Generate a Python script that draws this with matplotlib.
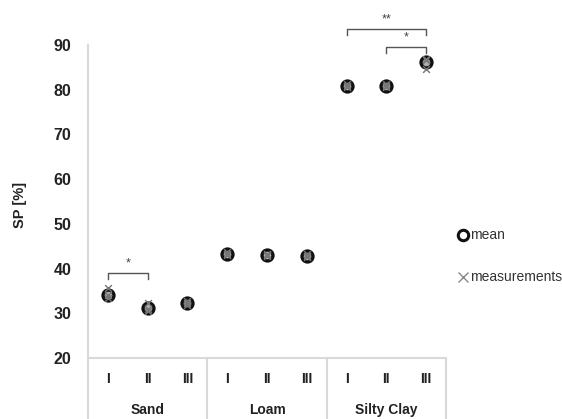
import matplotlib
matplotlib.use("Agg")
import matplotlib.pyplot as plt
from matplotlib.lines import Line2D

soils = ["Sand", "Loam", "Silty Clay"]
levels = ["I", "II", "III"]
means = [34.0, 31.2, 32.3, 43.3, 43.0, 42.9, 80.9, 80.9, 86.1]
measurements = [
    [33.4, 34.0, 35.6],
    [30.6, 31.0, 32.2],
    [31.9, 32.3, 32.8],
    [43.0, 43.3, 43.6],
    [42.7, 43.0, 43.3],
    [42.6, 42.9, 43.2],
    [80.5, 80.9, 81.3],
    [80.5, 80.9, 81.3],
    [84.7, 86.7, 86.9],
]
# significance brackets: (i, j, y, label)
brackets = [(0, 1, 39.0, "*"), (6, 8, 93.5, "**"), (7, 8, 89.6, "*")]

plt.rcParams["font.family"] = ["Liberation Sans Narrow", "Liberation Sans", "DejaVu Sans"]

W, H = 562, 419
fig = plt.figure(figsize=(W / 100, H / 100), dpi=100)
L, R, B, T = 88, 446, 358, 45
ax = fig.add_axes([L / W, 1 - B / H, (R - L) / W, (B - T) / H])

n = len(means)
xs = list(range(n))
ax.set_xlim(-0.5, n - 0.5)
ax.set_ylim(20, 90)

for i, vals in enumerate(measurements):
    ax.scatter([i] * len(vals), vals, marker="x", s=24, color="#777777",
               linewidths=1.0, zorder=3)
ax.scatter(xs, means, marker="o", s=62, facecolors="#b0b0b0",
           edgecolors="#111111", linewidths=2.4, zorder=2)

for (i, j, y, lab) in brackets:
    h = 1.3
    ax.plot([i, i, j, j], [y - h, y, y, y - h], color="#555555", lw=1.0,
            clip_on=False)
    ax.text((i + j) / 2, y + 0.8, lab, ha="center", va="bottom",
            fontsize=9, color="#444444", clip_on=False)

for s in ["top", "right", "bottom"]:
    ax.spines[s].set_visible(False)
ax.spines["left"].set_color("#d9d9d9")
ax.spines["left"].set_linewidth(1.5)
ax.axhline(20, color="#d9d9d9", lw=1.5, clip_on=False)
ax.set_yticks(range(20, 91, 10))
ax.tick_params(axis="y", length=0, pad=12, labelsize=11.5, colors="#222222")
for t in ax.get_yticklabels():
    t.set_fontweight("bold")
ax.set_xticks([])

# category axis below
trans = ax.get_xaxis_transform()
for g in range(len(soils) + 1):
    xb = g * 3 - 0.5
    ax.plot([xb, xb], [0, -61 / (B - T)], transform=trans, color="#d9d9d9",
            lw=1.5, clip_on=False)
for i in xs:
    ax.text(i, -21 / (B - T), levels[i % 3], transform=trans, ha="center",
            va="center", fontsize=10, fontweight="bold", color="#222222")
for g, s in enumerate(soils):
    ax.text(g * 3 + 1, -52 / (B - T), s, transform=trans, ha="center",
            va="center", fontsize=10, fontweight="bold", color="#222222")

fig.text(20 / W, 1 - 205 / H, "SP [%]", rotation=90, ha="center", va="center",
         fontsize=10.5, fontweight="bold", color="#222222")

# legend
fig.lines.append(Line2D([463 / W], [1 - 235 / H], marker="o", markersize=7.5,
                        markerfacecolor="white", markeredgecolor="#111111",
                        markeredgewidth=2.2, transform=fig.transFigure))
fig.text(470 / W, 1 - 235 / H, "mean", ha="left", va="center", fontsize=10,
         color="#333333")
fig.lines.append(Line2D([463 / W], [1 - 277 / H], marker="x", markersize=7,
                        markeredgecolor="#8a8a8a", markeredgewidth=1.0,
                        transform=fig.transFigure))
fig.text(470 / W, 1 - 277 / H, "measurements", ha="left", va="center",
         fontsize=10, color="#333333")

fig.savefig("out.png", dpi=100)
